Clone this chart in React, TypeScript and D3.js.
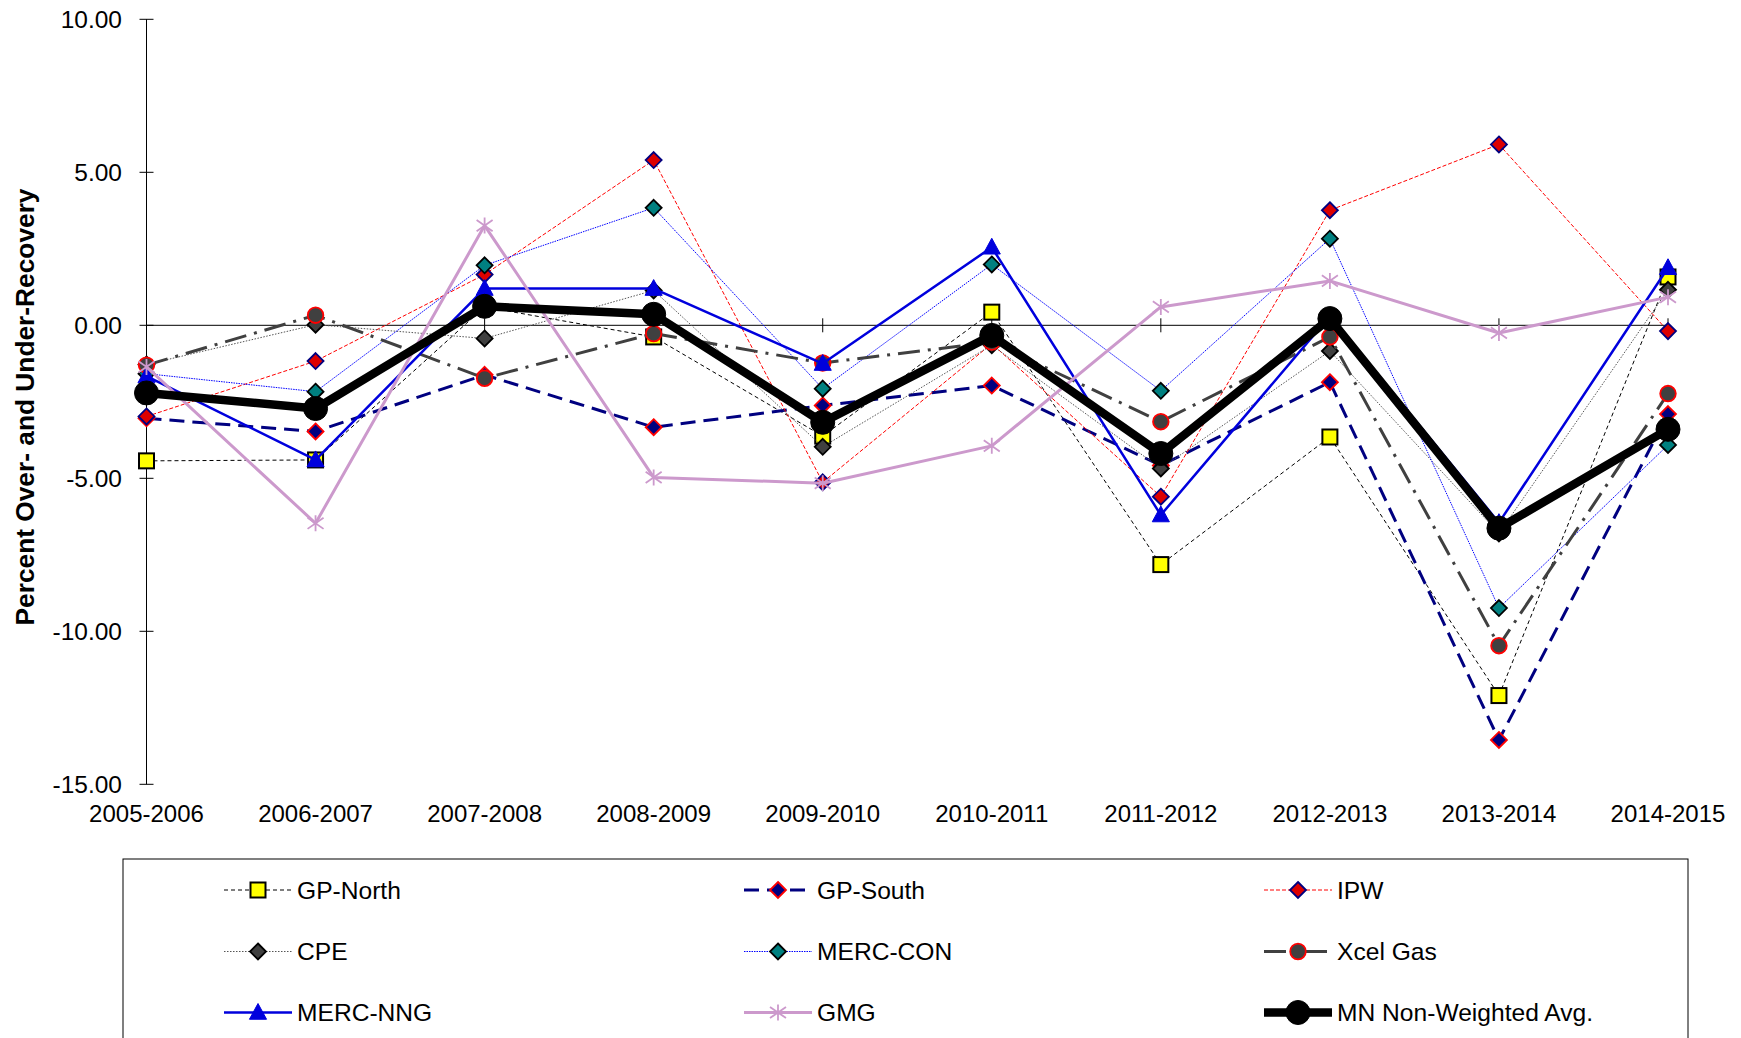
import React from "react";
import * as d3 from "d3";

const categories = ["2005-2006", "2006-2007", "2007-2008", "2008-2009", "2009-2010", "2010-2011", "2011-2012", "2012-2013", "2013-2014", "2014-2015"];
const yTicks = [10, 5, 0, -5, -10, -15];

const gpNorth = [-4.43, -4.40, 0.60, -0.38, -3.62, 0.43, -7.82, -3.65, -12.10, 1.58];
const gpSouth = [-3.04, -3.47, -1.62, -3.33, -2.62, -1.97, -4.58, -1.86, -13.55, -2.90];
const ipw = [-2.98, -1.17, 1.66, 5.40, -5.13, -0.60, -5.60, 3.76, 5.91, -0.19];
const cpe = [-1.28, 0.02, -0.43, 1.14, -3.97, -0.65, -4.68, -0.84, -6.80, 1.16];
const mercCon = [-1.58, -2.17, 1.96, 3.84, -2.07, 1.99, -2.14, 2.83, -9.24, -3.91];
const xcelGas = [-1.30, 0.33, -1.73, -0.27, -1.23, -0.55, -3.15, -0.38, -10.47, -2.23];
const mercNng = [-1.66, -4.40, 1.20, 1.20, -1.25, 2.55, -6.20, 0.30, -6.45, 1.88];
const gmg = [-1.36, -6.47, 3.26, -4.97, -5.16, -3.94, 0.60, 1.45, -0.25, 0.92];
const mnAvg = [-2.21, -2.72, 0.62, 0.36, -3.17, -0.33, -4.19, 0.22, -6.63, -3.40];

type Series = {
  name: string;
  values: number[];
  stroke: string;
  width: number;
  dash?: string;
  marker: "square" | "diamond" | "circle" | "triangle" | "star" | "bigcircle";
  fill: string;
  mstroke: string;
};

const series: Series[] = [
  { name: "GP-North", values: gpNorth, stroke: "#000000", width: 1, dash: "4,3", marker: "square", fill: "#FFFF00", mstroke: "#000000" },
  { name: "GP-South", values: gpSouth, stroke: "#000080", width: 3, dash: "15,8", marker: "diamond", fill: "#000080", mstroke: "#FF0000" },
  { name: "IPW", values: ipw, stroke: "#FF0000", width: 1, dash: "4,2", marker: "diamond", fill: "#DD0000", mstroke: "#000080" },
  { name: "CPE", values: cpe, stroke: "#555555", width: 1, dash: "1.5,1.5", marker: "diamond", fill: "#404040", mstroke: "#000000" },
  { name: "MERC-CON", values: mercCon, stroke: "#0000FF", width: 1, dash: "1.5,1", marker: "diamond", fill: "#008080", mstroke: "#000000" },
  { name: "Xcel Gas", values: xcelGas, stroke: "#404040", width: 3, dash: "22,8,3,8", marker: "circle", fill: "#404040", mstroke: "#FF0000" },
  { name: "MERC-NNG", values: mercNng, stroke: "#0000DD", width: 2.5, marker: "triangle", fill: "#0000DD", mstroke: "#0000DD" },
  { name: "GMG", values: gmg, stroke: "#CC99CC", width: 3, marker: "star", fill: "none", mstroke: "#CC99CC" },
  { name: "MN Non-Weighted Avg.", values: mnAvg, stroke: "#000000", width: 8.5, marker: "bigcircle", fill: "#000000", mstroke: "#000000" },
];

const W = 1741;
const H = 1038;
const FONT = "'Liberation Sans', Arial, sans-serif";

const x = d3.scalePoint<string>().domain(categories).range([146.5, 1668]);
const y = d3.scaleLinear().domain([-15, 10]).range([784.3, 19.3]);

function Marker({ s, cx, cy }: { s: Series; cx: number; cy: number }) {
  const m = s.marker;
  if (m === "square") {
    return <rect x={cx - 7.5} y={cy - 7.5} width={15} height={15} fill={s.fill} stroke={s.mstroke} strokeWidth={2} />;
  }
  if (m === "diamond") {
    const r = 8;
    return (
      <path d={`M${cx},${cy - r}L${cx + r},${cy}L${cx},${cy + r}L${cx - r},${cy}Z`} fill={s.fill} stroke={s.mstroke} strokeWidth={1.8} />
    );
  }
  if (m === "circle") {
    return <circle cx={cx} cy={cy} r={7.8} fill={s.fill} stroke={s.mstroke} strokeWidth={1.8} />;
  }
  if (m === "bigcircle") {
    return <circle cx={cx} cy={cy} r={12} fill={s.fill} stroke={s.mstroke} strokeWidth={1} />;
  }
  if (m === "triangle") {
    const r = 9;
    return <path d={`M${cx},${cy - r}L${cx + r * 0.95},${cy + r * 0.75}L${cx - r * 0.95},${cy + r * 0.75}Z`} fill={s.fill} stroke={s.mstroke} strokeWidth={1} />;
  }
  const r = 8;
  return (
    <path
      d={`M${cx},${cy - r}L${cx},${cy + r}M${cx - r},${cy - r * 0.7}L${cx + r},${cy + r * 0.7}M${cx - r},${cy + r * 0.7}L${cx + r},${cy - r * 0.7}`}
      fill="none"
      stroke={s.mstroke}
      strokeWidth={1.8}
    />
  );
}

export default function App() {
  const line = d3
    .line<number>()
    .x((_, i) => x(categories[i]) as number)
    .y((v) => y(v));

  const x0 = x(categories[0]) as number;
  const xN = x(categories[categories.length - 1]) as number;

  const legendCols = [224, 744, 1264];
  const legendRows = [890, 951.5, 1012.5];

  return (
    <svg width={W} height={H} style={{ position: "absolute", left: 0, top: 0, background: "#fff" }} fontFamily={FONT}>
      <rect x={0} y={0} width={W} height={H} fill="#fff" />
      <line x1={x0} x2={x0} y1={y(10)} y2={y(-15)} stroke="#000" strokeWidth={1} />
      {yTicks.map((t) => (
        <g key={t}>
          <line x1={x0 - 7} x2={x0 + 7} y1={y(t)} y2={y(t)} stroke="#000" strokeWidth={1} />
          <text x={122} y={y(t) + 8.7} textAnchor="end" fontSize={24.5} fill="#000">
            {t.toFixed(2)}
          </text>
        </g>
      ))}
      <line x1={x0} x2={xN} y1={y(0)} y2={y(0)} stroke="#000" strokeWidth={1} />
      {categories.map((c) => (
        <g key={c}>
          <line x1={x(c)} x2={x(c)} y1={y(0) - 7} y2={y(0) + 7} stroke="#000" strokeWidth={1} />
          <text x={x(c)} y={821.5} textAnchor="middle" fontSize={24} fill="#000">
            {c}
          </text>
        </g>
      ))}
      <text transform={`translate(34,407) rotate(-90)`} textAnchor="middle" fontSize={26.3} fontWeight="bold" fill="#000">
        Percent Over- and Under-Recovery
      </text>
      {series.map((s) => (
        <g key={s.name}>
          <path d={line(s.values) || ""} fill="none" stroke={s.stroke} strokeWidth={s.width} strokeDasharray={s.dash} strokeLinejoin="round" />
          {s.values.map((v, i) => (
            <Marker key={i} s={s} cx={x(categories[i]) as number} cy={y(v)} />
          ))}
        </g>
      ))}
      <rect x={123} y={859} width={1565} height={200} fill="#fff" stroke="#000" strokeWidth={1} />
      {series.map((s, i) => {
        const lx = legendCols[i % 3];
        const ly = legendRows[Math.floor(i / 3)];
        return (
          <g key={s.name}>
            <line x1={lx} x2={lx + 68} y1={ly} y2={ly} stroke={s.stroke} strokeWidth={s.width} strokeDasharray={s.dash} />
            <Marker s={s} cx={lx + 34} cy={ly} />
            <text x={lx + 73} y={ly + 8.7} fontSize={24.6} fill="#000">
              {s.name}
            </text>
          </g>
        );
      })}
    </svg>
  );
}
